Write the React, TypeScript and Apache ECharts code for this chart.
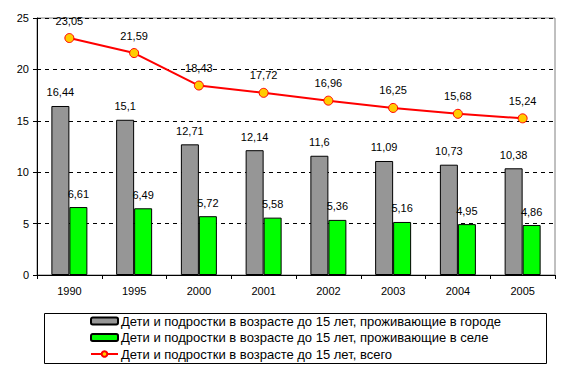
import React, { useEffect, useRef } from "react";
import * as echarts from "echarts";

const categories = ["1990", "1995", "2000", "2001", "2002", "2003", "2004", "2005"];
const cityValues = [16.44, 15.1, 12.71, 12.14, 11.6, 11.09, 10.73, 10.38];
const villageValues = [6.61, 6.49, 5.72, 5.58, 5.36, 5.16, 4.95, 4.86];
const totalValues = [23.05, 21.59, 18.43, 17.72, 16.96, 16.25, 15.68, 15.24];
const seriesNames = [
  "Дети и подростки в возрасте до 15 лет, проживающие в городе",
  "Дети и подростки в возрасте до 15 лет, проживающие в селе",
  "Дети и подростки в возрасте до 15 лет, всего",
];

const fmt = (p: any) => String(p.value).replace(".", ",");
const FONT = "Arial, 'Liberation Sans', sans-serif";

export default function App() {
  const ref = useRef<HTMLDivElement>(null);
  useEffect(() => {
    if (!ref.current) return;
    const chart = echarts.init(ref.current, null, { renderer: "svg" });
    const labelStyle = {
      show: true,
      position: "top" as const,
      formatter: fmt,
      fontFamily: FONT,
      fontSize: 11,
      color: "#000",
    };
    chart.setOption({
      animation: false,
      textStyle: { fontFamily: FONT },
      grid: {
        left: 37,
        top: 18,
        right: 15,
        bottom: 97,
        show: true,
        borderColor: "#808080",
        borderWidth: 1,
        backgroundColor: "transparent",
      },
      xAxis: {
        type: "category",
        data: categories,
        boundaryGap: true,
        axisLine: { show: true, lineStyle: { color: "#000", width: 1 } },
        axisTick: { show: true, alignWithLabel: false, length: 4, lineStyle: { color: "#000" } },
        axisLabel: { fontFamily: FONT, fontSize: 11, color: "#000", margin: 10 },
        splitLine: { show: false },
      },
      yAxis: {
        type: "value",
        min: 0,
        max: 25,
        interval: 5,
        axisLine: { show: true, lineStyle: { color: "#000", width: 1 } },
        axisTick: { show: true, length: 4, lineStyle: { color: "#000" } },
        axisLabel: { fontFamily: FONT, fontSize: 11, color: "#000", margin: 8 },
        splitLine: { show: true, lineStyle: { color: "#000", type: [4, 4], width: 1 } },
      },
      legend: {
        orient: "vertical",
        left: 90,
        top: 314,
        padding: 0,
        itemWidth: 27,
        itemHeight: 7,
        itemGap: 2.5,
        textStyle: {
          fontFamily: FONT,
          fontSize: 13,
          lineHeight: 14,
          color: "#000",
          padding: [0, 0, 0, -2],
        },
        data: seriesNames,
      },
      graphic: [
        {
          type: "rect",
          shape: { x: 44.5, y: 313.5, width: 502, height: 50 },
          style: { fill: "none", stroke: "#000", lineWidth: 1 },
          silent: true,
        },
      ],
      series: [
        {
          name: seriesNames[0],
          type: "bar",
          data: cityValues,
          barWidth: 18,
          barGap: "0%",
          itemStyle: { color: "#969696", borderColor: "#000", borderWidth: 1 },
          label: { ...labelStyle, distance: 8 },
        },
        {
          name: seriesNames[1],
          type: "bar",
          data: villageValues,
          barWidth: 18,
          barGap: "0%",
          itemStyle: { color: "#00FF00", borderColor: "#000", borderWidth: 1 },
          label: { ...labelStyle, distance: 8 },
        },
        {
          name: seriesNames[2],
          type: "line",
          data: totalValues,
          symbol: "circle",
          symbolSize: 9,
          lineStyle: { color: "#FF0000", width: 2 },
          itemStyle: { color: "#FFCC00", borderColor: "#FF0000", borderWidth: 1 },
          label: { ...labelStyle, distance: 7 },
          z: 5,
        },
      ],
    });
    return () => chart.dispose();
  }, []);
  return <div ref={ref} style={{ width: 570, height: 372, margin: -8 }} />;
}
